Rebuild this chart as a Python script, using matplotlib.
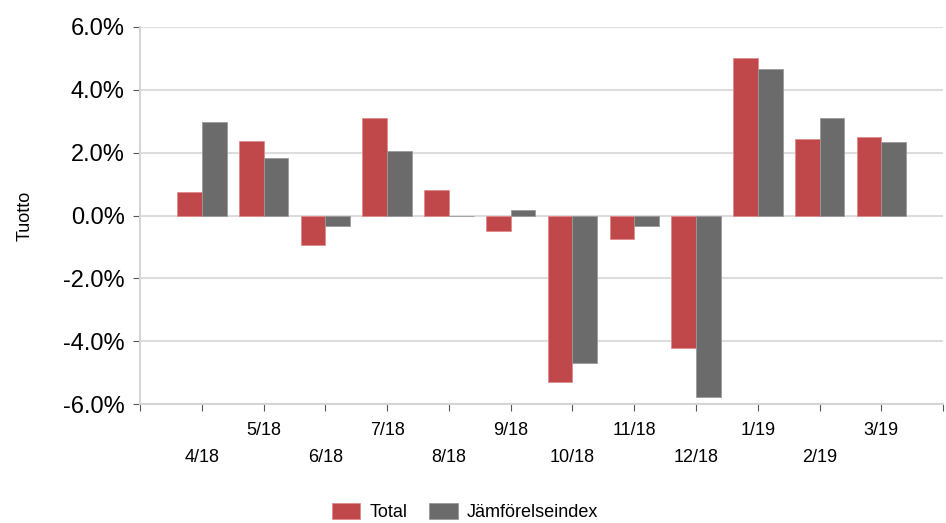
import numpy as np
import matplotlib.pyplot as plt
from matplotlib.ticker import FuncFormatter

# --- Data (monthly returns, %) ---
months = ['4/18', '5/18', '6/18', '7/18', '8/18', '9/18',
          '10/18', '11/18', '12/18', '1/19', '2/19', '3/19']
total = [0.76, 2.37, -0.95, 3.11, 0.80, -0.49, -5.31, -0.76, -4.23, 5.00, 2.44, 2.50]
index = [2.99, 1.84, -0.34, 2.06, -0.03, 0.17, -4.70, -0.34, -5.78, 4.65, 3.10, 2.35]

RED = '#C0474A'
GREY = '#6B6B6B'
FONT = ['Liberation Sans Narrow', 'Liberation Sans', 'DejaVu Sans']

plt.rcParams['font.family'] = FONT

fig = plt.figure(figsize=(9.46, 5.23), dpi=100)
ax = fig.add_axes([0.148, 0.2275, 0.849, 0.7209])

x = np.arange(len(months))
w = 0.4
ax.bar(x - w / 2, total, w, color=RED, edgecolor='#E08A8C', linewidth=0.6, label='Total', zorder=3)
ax.bar(x + w / 2, index, w, color=GREY, edgecolor='#9A9A9A', linewidth=0.6, label='Jämförelseindex', zorder=3)

ax.set_xlim(-1, len(months))
ax.set_ylim(-6, 6)
ax.set_yticks(np.arange(-6, 7, 2))
ax.yaxis.set_major_formatter(FuncFormatter(lambda v, p: f'{v:.1f}%'))
ax.tick_params(axis='y', labelsize=17, length=5, color='#555555', pad=6)
ax.grid(axis='y', color='#DDDDDD', linewidth=1.5, zorder=0)

# x ticks at every category plus both edges, labels staggered in two rows
ax.set_xticks(np.arange(-1, len(months) + 1))
labels = [''] + [m if i % 2 else '\n' + m for i, m in enumerate(months)] + ['']
ax.set_xticklabels(labels, fontsize=13, linespacing=1.75)
ax.tick_params(axis='x', length=5, color='#555555', pad=8)

for s in ['top', 'right']:
    ax.spines[s].set_visible(False)
for s in ['left', 'bottom']:
    ax.spines[s].set_color('#D5D5D5')
    ax.spines[s].set_linewidth(1.5)

ax.set_ylabel('Tuotto', fontsize=13, labelpad=8)
ax.yaxis.set_label_coords(-0.133, 0.5)

fig.legend(loc='center', bbox_to_anchor=(465 / 946, 1 - 512 / 523), ncol=2,
           frameon=False, fontsize=13, handlelength=1.6, handleheight=1.0,
           columnspacing=1.2, handletextpad=0.5, borderpad=0.1)

fig.savefig('out.png', dpi=100)
